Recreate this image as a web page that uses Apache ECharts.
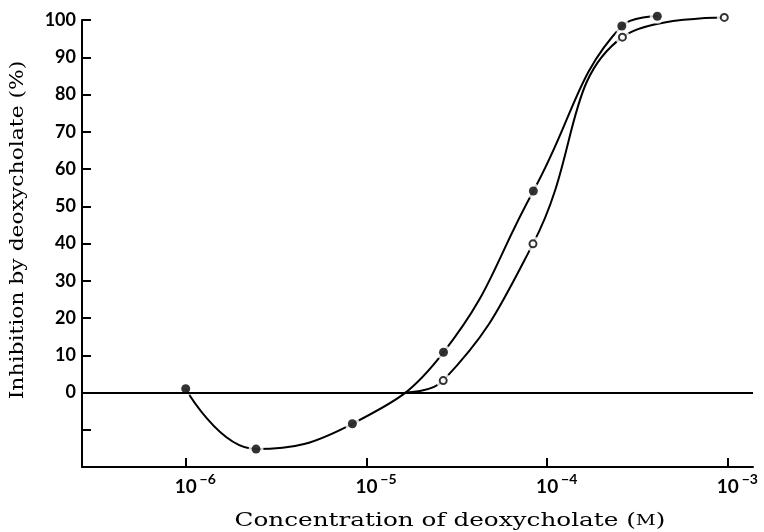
<!DOCTYPE html>
<html>
<head>
<meta charset="utf-8">
<script src="https://cdn.jsdelivr.net/npm/echarts@6/dist/echarts.min.js"></script>
<style>
  html, body { margin: 0; padding: 0; background: #fff; }
  #chart { width: 764px; height: 532px; }
</style>
</head>
<body>
<div id="chart"></div>
<script>
// Deoxycholate concentration (M) and inhibition (%)
const filledConc = [1.0e-6, 2.45e-6, 8.36e-6, 2.67e-5, 8.39e-5, 2.59e-4, 4.07e-4];
const filledInhib = [1.0, -15.2, -8.4, 10.8, 54.1, 98.4, 101.0];

const openConc = [2.66e-5, 8.35e-5, 2.61e-4, 9.56e-4];
const openInhib = [3.2, 39.9, 95.4, 100.7];
// where the open-circle curve leaves the zero line
const openCurveStart = [1.64e-5, 0];

const xTickValues = [1e-6, 1e-5, 1e-4, 1e-3];
const yTickValues = [-10, 0, 10, 20, 30, 40, 50, 60, 70, 80, 90, 100];

const xTitle = 'Concentration of deoxycholate ({sc|M})';
const yTitle = 'Inhibition by deoxycholate (%)';

const pairs = (xs, ys) => xs.map((x, i) => [x, ys[i]]);
const filledPts = pairs(filledConc, filledInhib);
const openPts = pairs(openConc, openInhib);

const tickFont = 'Lato';
const titleFont = '"DejaVu Serif", "Liberation Serif", serif';
const ink = '#000';

const chart = echarts.init(document.getElementById('chart'), null, { renderer: 'canvas' });
chart.setOption({
  animation: false,
  backgroundColor: '#ffffff',
  grid: { left: 82, right: 11, top: 20, bottom: 65, outerBoundsMode: 'none' },
  graphic: [
    {
      type: 'text',
      x: 450, y: 521,
      scaleX: 1.3,
      silent: true,
      style: {
        text: xTitle,
        font: '19px ' + titleFont,
        fill: ink,
        align: 'center',
        verticalAlign: 'middle',
        rich: { sc: { font: '15px ' + titleFont, fill: ink } }
      }
    },
    {
      type: 'text',
      x: 18, y: 230,
      rotation: Math.PI / 2,
      scaleX: 1.15,
      silent: true,
      style: {
        text: yTitle,
        font: '19px ' + titleFont,
        fill: ink,
        align: 'center',
        verticalAlign: 'middle'
      }
    }
  ],
  xAxis: {
    type: 'log',
    logBase: 10,
    min: 2.667e-7,
    max: 1.378e-3,
    axisLine: { show: true, onZero: false, lineStyle: { color: ink, width: 2 } },
    axisTick: { show: true, inside: true, length: 9, customValues: xTickValues, lineStyle: { color: ink, width: 2 } },
    splitLine: { show: false },
    minorTick: { show: false },
    axisLabel: {
      customValues: xTickValues,
      margin: 5,
      color: ink,
      formatter: function (v) {
        const e = Math.round(Math.log10(v));
        return '{p| }{b|10}{s|\u2212' + Math.abs(e) + '}';
      },
      rich: {
        p: { width: 22, fontSize: 12 },
        b: { fontFamily: tickFont, fontWeight: 'bold', fontSize: 19, color: ink, lineHeight: 24, verticalAlign: 'bottom' },
        s: { fontFamily: tickFont, fontWeight: 'bold', fontSize: 14, color: ink, width: 22, lineHeight: 12, verticalAlign: 'top' }
      }
    }
  },
  yAxis: {
    type: 'value',
    min: -20,
    max: 100,
    interval: 10,
    axisLine: { show: true, onZero: false, lineStyle: { color: ink, width: 2 } },
    axisTick: { show: true, inside: true, length: 9, customValues: yTickValues, lineStyle: { color: ink, width: 2 } },
    splitLine: { show: false },
    axisLabel: {
      margin: 6,
      color: ink,
      fontFamily: tickFont,
      fontWeight: 'bold',
      fontSize: 18,
      formatter: function (v) { return v < 0 ? '' : String(v); }
    }
  },
  series: [
    {
      name: 'filled curve',
      type: 'line',
      data: filledPts,
      smooth: 0.45,
      showSymbol: false,
      clip: false,
      z: 2,
      lineStyle: { color: ink, width: 2 },
      markLine: {
        silent: true,
        symbol: ['none', 'none'],
        label: { show: false },
        lineStyle: { color: ink, width: 2, type: 'solid' },
        data: [{ yAxis: 0 }]
      }
    },
    {
      name: 'open curve',
      type: 'line',
      data: [openCurveStart].concat(openPts),
      smooth: 0.45,
      showSymbol: false,
      clip: false,
      z: 2,
      lineStyle: { color: ink, width: 2 }
    },
    {
      name: 'gap',
      type: 'scatter',
      data: filledPts.concat(openPts),
      symbol: 'circle',
      symbolSize: 15,
      clip: false,
      z: 3,
      silent: true,
      itemStyle: { color: '#ffffff' }
    },
    {
      name: 'filled',
      type: 'scatter',
      data: filledPts,
      symbol: 'circle',
      symbolSize: 9,
      clip: false,
      z: 4,
      itemStyle: { color: ink }
    },
    {
      name: 'open',
      type: 'scatter',
      data: openPts,
      symbol: 'circle',
      symbolSize: 7,
      clip: false,
      z: 4,
      itemStyle: { color: '#ffffff', borderColor: ink, borderWidth: 2 }
    }
  ]
});
</script>
</body>
</html>
